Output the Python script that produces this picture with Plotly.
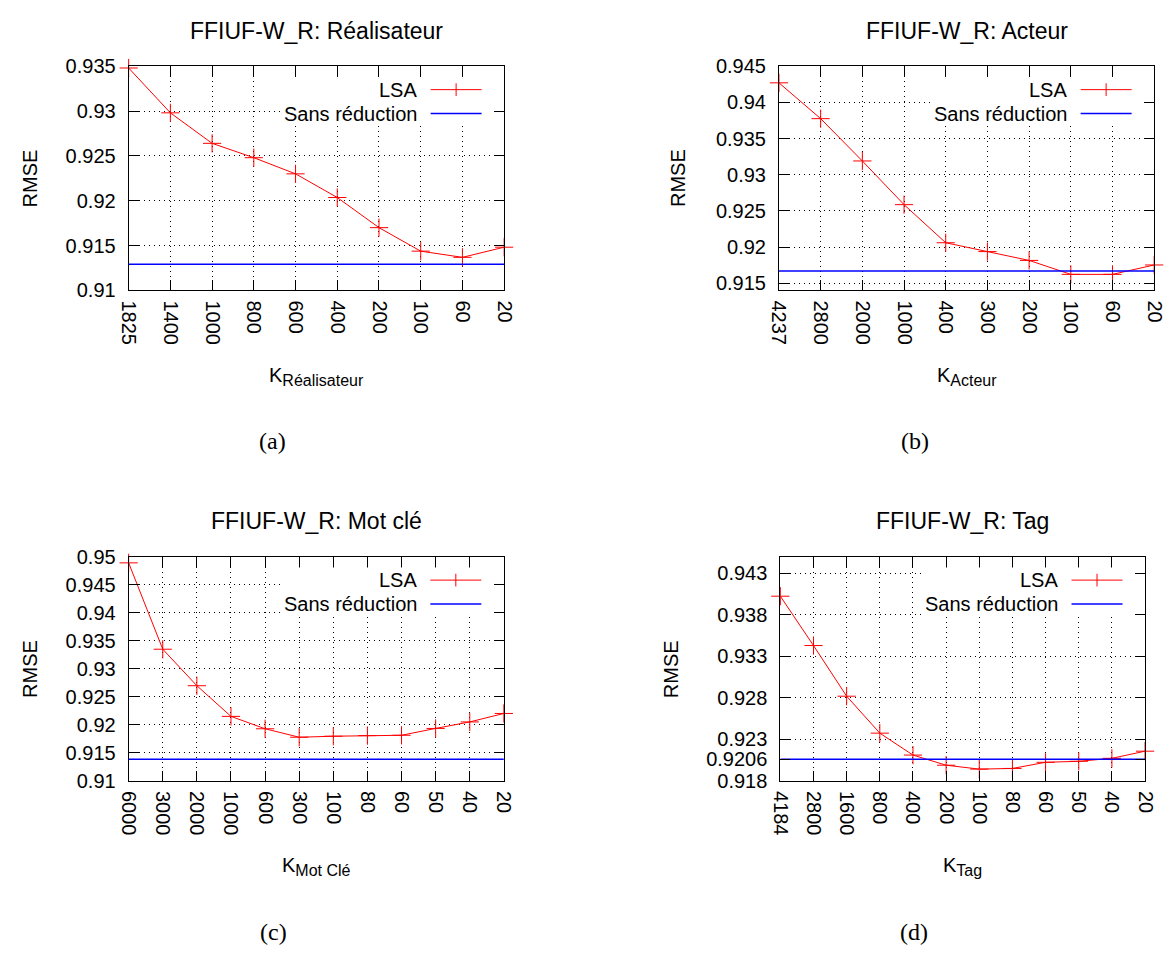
import plotly.graph_objects as go

W, H = 1175, 958

# ---------------- data ----------------
K_A = ["1825", "1400", "1000", "800", "600", "400", "200", "100", "60", "20"]
LSA_A = [0.9348, 0.9298, 0.9264, 0.9248, 0.9230, 0.92036, 0.9170, 0.91438, 0.91369, 0.91482]
BASE_A = 0.91291
YTICKS_A = [0.91, 0.915, 0.92, 0.925, 0.93, 0.935]
YRANGE_A = [0.91, 0.935]

K_B = ["4237", "2800", "2000", "1000", "400", "300", "200", "100", "60", "20"]
LSA_B = [0.9427, 0.93775, 0.9319, 0.92586, 0.92059, 0.91937, 0.91815, 0.91622, 0.91622, 0.91752]
BASE_B = 0.91667
YTICKS_B = [0.915, 0.92, 0.925, 0.93, 0.935, 0.94, 0.945]
YRANGE_B = [0.914, 0.945]

K_C = ["6000", "3000", "2000", "1000", "600", "300", "100", "80", "60", "50", "40", "20"]
LSA_C = [0.9489, 0.93349, 0.92698, 0.92151, 0.9193, 0.91779, 0.91797, 0.91808, 0.91814, 0.91936, 0.92052, 0.92203]
BASE_C = 0.91384
YTICKS_C = [0.91, 0.915, 0.92, 0.925, 0.93, 0.935, 0.94, 0.945, 0.95]
YRANGE_C = [0.91, 0.95]

K_D = ["4184", "2800", "1600", "800", "400", "200", "100", "80", "60", "50", "40", "20"]
LSA_D = [0.94024, 0.9343, 0.9282, 0.92375, 0.92111, 0.91989, 0.91942, 0.9195, 0.92024, 0.92036, 0.92072, 0.92158]
BASE_D = 0.9206
YTICKS_D = [0.918, 0.9206, 0.923, 0.928, 0.933, 0.938, 0.943]
YRANGE_D = [0.918, 0.945]

TITLES = ["FFIUF-W_R: Réalisateur", "FFIUF-W_R: Acteur", "FFIUF-W_R: Mot clé", "FFIUF-W_R: Tag"]
XTITLES = ["Réalisateur", "Acteur", "Mot Clé", "Tag"]
CAPTIONS = ["(a)", "(b)", "(c)", "(d)"]
SERIES_NAMES = ["LSA", "Sans réduction"]

# ---------------- layout (pixel boxes of plot areas) ----------------
BOXES = [
    dict(l=120.0, r=503.0, t=56.5, b=286.0, ytitle_x=19.5, cap_x=267, cap_y=440),
    dict(l=783.3, r=1166.0, t=56.5, b=286.0, ytitle_x=681.0, cap_x=922, cap_y=440),
    dict(l=120.0, r=502.7, t=558.5, b=788.0, ytitle_x=19.5, cap_x=268, cap_y=943),
    dict(l=784.7, r=1156.7, t=558.5, b=788.0, ytitle_x=672.5, cap_x=921, cap_y=943),
]

PANELS = [
    (K_A, LSA_A, BASE_A, YTICKS_A, YRANGE_A),
    (K_B, LSA_B, BASE_B, YTICKS_B, YRANGE_B),
    (K_C, LSA_C, BASE_C, YTICKS_C, YRANGE_C),
    (K_D, LSA_D, BASE_D, YTICKS_D, YRANGE_D),
]

FONT = "Liberation Sans, Arial, Helvetica, sans-serif"
SERIF = "Liberation Serif, Times New Roman, serif"
RED = "#ff0000"
BLUE = "#0000ff"


def px(xp):
    return xp / W


def py(yp):
    return 1 - yp / H


fig = go.Figure()
layout = dict(
    width=W, height=H, autosize=False,
    margin=dict(l=0, r=0, t=0, b=0),
    paper_bgcolor="white", plot_bgcolor="white",
    font=dict(family=FONT, size=20, color="black"),
    showlegend=False,
)
annotations = []
shapes = []

for i, (box, (cats, lsa, base, yt, yr)) in enumerate(zip(BOXES, PANELS)):
    n = i + 1
    xa = "x" if n == 1 else f"x{n}"
    ya = "y" if n == 1 else f"y{n}"
    xkey = "xaxis" if n == 1 else f"xaxis{n}"
    ykey = "yaxis" if n == 1 else f"yaxis{n}"

    fig.add_trace(go.Scatter(
        x=cats, y=lsa, xaxis=xa, yaxis=ya, name=SERIES_NAMES[0],
        mode="lines+markers", cliponaxis=False,
        line=dict(color=RED, width=1),
        marker=dict(symbol="cross-thin", size=13, color=RED, line=dict(color=RED, width=1)),
    ))
    fig.add_trace(go.Scatter(
        x=[cats[0], cats[-1]], y=[base, base], xaxis=xa, yaxis=ya, name=SERIES_NAMES[1],
        mode="lines", line=dict(color=BLUE, width=1.5),
    ))

    common = dict(
        showline=True, linecolor="black", linewidth=1, mirror="ticks",
        ticks="inside", ticklen=10, tickwidth=1, tickcolor="black",
        showgrid=True, gridcolor="#000000", gridwidth=1, griddash="1px,4px",
        zeroline=False, tickfont=dict(family=FONT, size=20, color="black"),
    )
    layout[xkey] = dict(
        common, type="category", categoryorder="array", categoryarray=cats,
        range=[0, len(cats) - 1], domain=[px(box["l"]), px(box["r"])],
        anchor=ya, tickangle=90, ticklabelstandoff=5,
    )
    layout[ykey] = dict(
        common, range=yr, tickvals=yt, ticktext=[f"{v:g}" for v in yt],
        domain=[py(box["b"]), py(box["t"])], anchor=xa, ticklabelstandoff=8,
    )

    cx = (box["l"] + box["r"]) / 2
    cy = (box["t"] + box["b"]) / 2
    off = 502 if i >= 2 else 0
    # title
    annotations.append(dict(text=TITLES[i], x=px(cx), y=py(20 + off), xref="paper", yref="paper",
                            xanchor="center", yanchor="middle", showarrow=False,
                            font=dict(family=FONT, size=23, color="black")))
    # y title
    annotations.append(dict(text="RMSE", x=px(box["ytitle_x"]), y=py(cy), xref="paper", yref="paper",
                            xanchor="center", yanchor="middle", textangle=-90, showarrow=False,
                            font=dict(family=FONT, size=20, color="black")))
    # x title
    annotations.append(dict(text=f"K<sub><span style='font-size:16px'>{XTITLES[i]}</span></sub>",
                            x=px(cx), y=py(box["b"] + 88), xref="paper", yref="paper",
                            xanchor="center", yanchor="middle", showarrow=False,
                            font=dict(family=FONT, size=20, color="black")))
    # caption
    annotations.append(dict(text=CAPTIONS[i], x=px(box["cap_x"]), y=py(box["cap_y"]), xref="paper", yref="paper",
                            xanchor="center", yanchor="middle", showarrow=False,
                            font=dict(family=SERIF, size=24, color="black")))

    # legend (gnuplot style: text then sample), white box hides the grid behind it
    rows = [box["t"] + 24, box["t"] + 48.5]
    colors = [RED, BLUE]
    widths = [1, 1.5]
    shapes.append(dict(type="rect", xref="paper", yref="paper", layer="above",
                       x0=px(box["r"] - 226), x1=px(box["r"] - 13),
                       y0=py(box["t"] + 61), y1=py(box["t"] + 11),
                       fillcolor="white", line=dict(width=0)))
    for j in range(2):
        annotations.append(dict(text=SERIES_NAMES[j], x=px(box["r"] - 87), y=py(rows[j]),
                                xref="paper", yref="paper", xanchor="right", yanchor="middle",
                                showarrow=False, font=dict(family=FONT, size=20, color="black")))
        shapes.append(dict(type="line", xref="paper", yref="paper", layer="above",
                           x0=px(box["r"] - 75), x1=px(box["r"] - 23),
                           y0=py(rows[j]), y1=py(rows[j]),
                           line=dict(color=colors[j], width=widths[j])))
    mx = box["r"] - 49
    shapes.append(dict(type="line", xref="paper", yref="paper", layer="above",
                       x0=px(mx), x1=px(mx), y0=py(rows[0] + 6.5), y1=py(rows[0] - 6.5),
                       line=dict(color=RED, width=1)))

layout["annotations"] = annotations
layout["shapes"] = shapes
fig.update_layout(**layout)
fig.write_html(
    "out.html",
    config={"displayModeBar": False, "staticPlot": True},
    post_script="document.body.style.margin='0';document.body.style.padding='0';",
)
